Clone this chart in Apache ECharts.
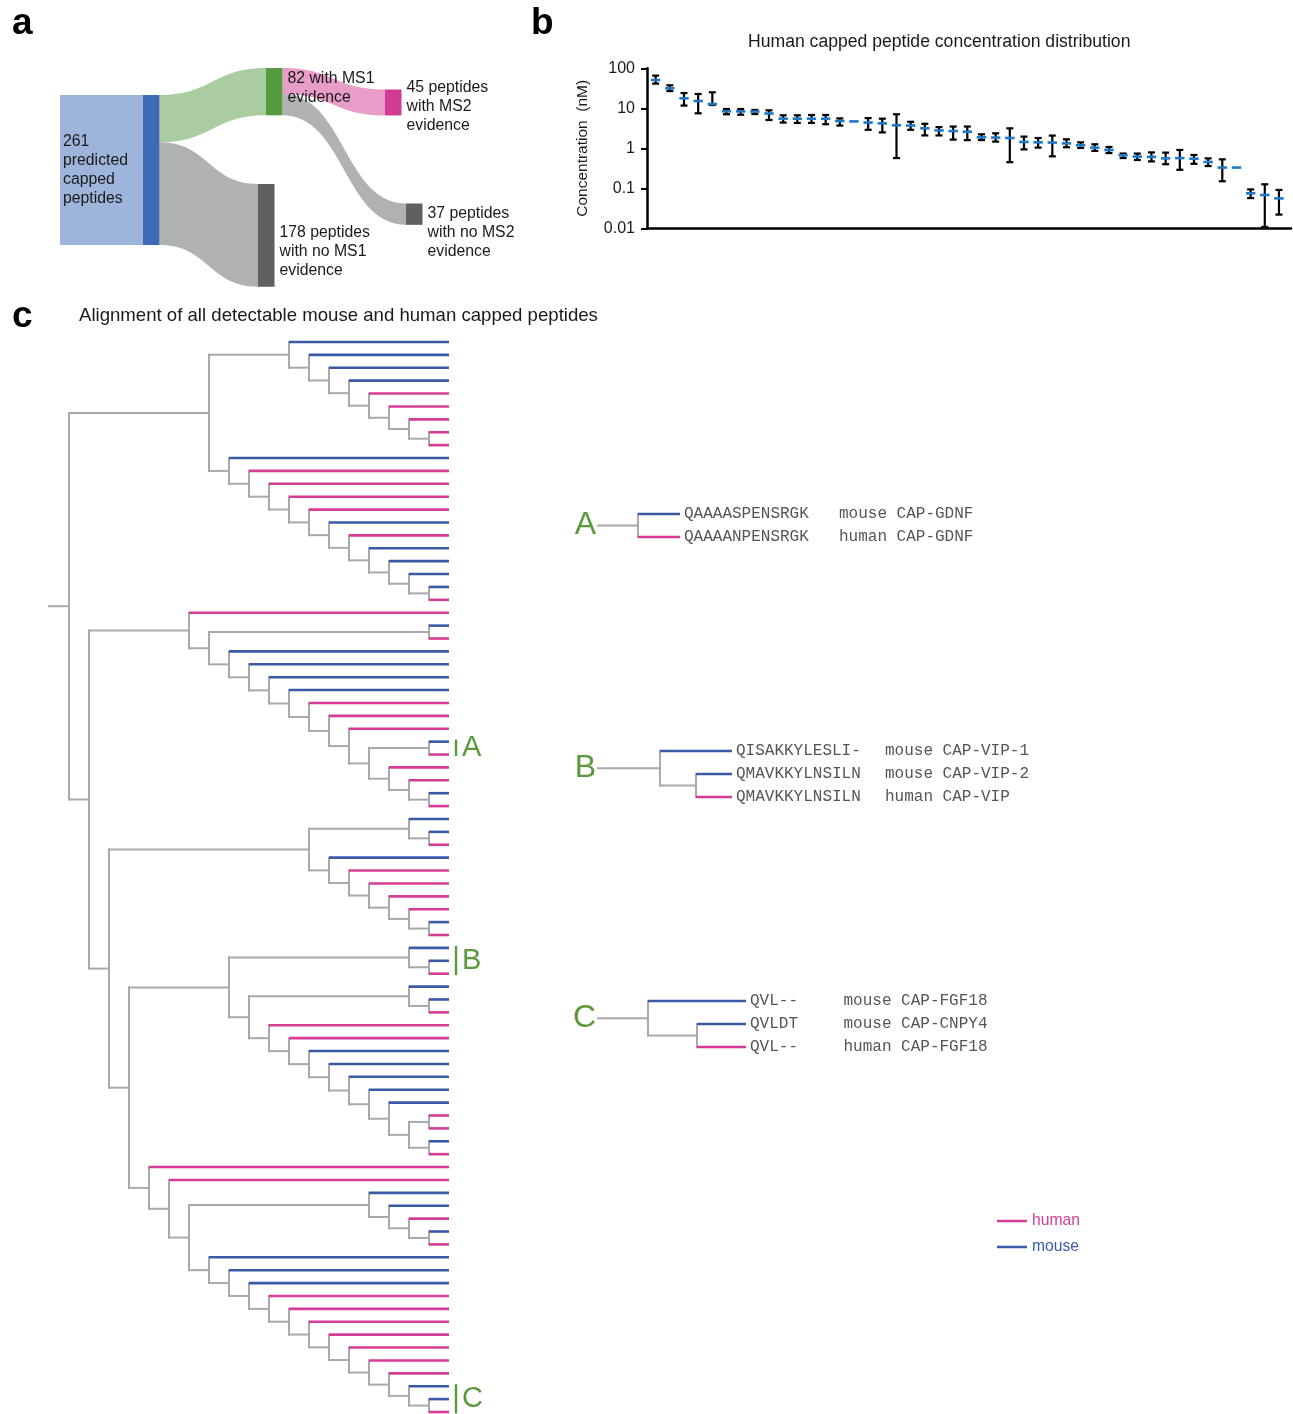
<!DOCTYPE html>
<html><head><meta charset="utf-8">
<script src="https://cdn.jsdelivr.net/npm/echarts@6/dist/echarts.min.js"></script>
<style>html,body{margin:0;padding:0;background:#fff}#main{width:1293px;height:1414px}</style>
</head><body><div id="main"></div>
<script>
// ================= DATA =================
// ---- panel a : sankey ----
const sankeyNodeNames = ['n261', 'n82', 'n178', 'n45', 'n37'];
const sankeyNodeLines = [
  ['261', 'predicted', 'capped', 'peptides'],
  ['82 with MS1', 'evidence'],
  ['178 peptides', 'with no MS1', 'evidence'],
  ['45 peptides', 'with MS2', 'evidence'],
  ['37 peptides', 'with no MS2', 'evidence']
];
const sankeyLinkSource = [0, 0, 1, 1];
const sankeyLinkTarget = [1, 2, 3, 4];
const sankeyLinkValue = [82, 178, 45, 37];

// ---- panel b : concentration distribution (45 human capped peptides, ranked) ----
const peptideMean = [51, 31.6, 17.8, 15.2, 12.8, 8.4, 8.4, 8.3, 7.4, 5.5,
  5.5, 5.5, 5.5, 4.8, 4.7, 4.4, 4.2, 3.76, 3.7, 3.16,
  2.8, 2.7, 2.6, 1.88, 1.85, 1.81, 1.44, 1.41, 1.39, 1.33,
  1.19, 1.04, 0.91, 0.67, 0.62, 0.61, 0.56, 0.57, 0.55, 0.455,
  0.33, 0.33, 0.075, 0.068, 0.056];
const peptideLow = [41.4, 27, 11.7, 7.5, 12.1, 7.1, 6.9, 7.2, 5.1, 4.4,
  4.3, 4.3, 4.0, 3.7, null, 2.9, 2.5, 0.57, 2.9, 2.1,
  2.1, 1.65, 1.6, 1.61, 1.47, 0.45, 0.94, 1.04, 0.63, 1.06,
  1.02, 0.86, 0.76, 0.57, 0.51, 0.47, 0.40, 0.29, 0.41, 0.36,
  0.15, null, 0.057, 0.0108, 0.022];
const peptideHigh = [65.7, 37.6, 24.1, 22.8, 25.1, 9.6, 9.6, 9.1, 8.9, 6.7,
  6.7, 6.8, 6.8, 5.6, null, 5.7, 5.5, 7.1, 4.6, 4.1,
  3.4, 3.5, 3.5, 2.24, 2.37, 3.16, 1.96, 1.81, 2.08, 1.68,
  1.41, 1.26, 1.08, 0.74, 0.74, 0.79, 0.78, 0.91, 0.68, 0.56,
  0.53, null, 0.094, 0.126, 0.091];
const concentrationTicks = ['0.01', '0.1', '1', '10', '100'];

// ---- panel c : dendrogram (leaf index = row from top) ----
const leafSpecies = [
  'mouse','mouse','mouse','mouse','human','human','human','human','human',
  'mouse','human','human','human','human','mouse','human','mouse','mouse','mouse','mouse','human',
  'human','mouse','human','mouse','mouse','mouse','mouse','human','human','human','mouse','human','human','human','mouse','human',
  'mouse','mouse','human','mouse','human','human','human','human','mouse','human',
  'mouse','mouse','human','mouse','mouse','human','human','human','mouse','mouse','mouse','mouse','mouse','human','human','mouse','human',
  'human','human','mouse','mouse','human','mouse','human','mouse','mouse','mouse','human','human','human','human','human','human','human','mouse','mouse','human'
];
const treeTopology = [
  [
    [0,[1,[2,[3,[4,[5,[6,[7,8]]]]]]]],
    [9,[10,[11,[12,[13,[14,[15,[16,[17,[18,[19,20]]]]]]]]]]]
  ],
  [
    [21, [[22,23], [24,[25,[26,[27,[28,[29,[30,[[31,32],[33,[34,[35,36]]]]]]]]]]]]],
    [
      [[37,[38,39]], [40,[41,[42,[43,[44,[45,46]]]]]]],
      [
        [[47,[48,49]], [[50,[51,52]], [53,[54,[55,[56,[57,[58,[59,[[60,61],[62,63]]]]]]]]]]],
        [64, [65, [[66,[67,[68,[69,70]]]], [71,[72,[73,[74,[75,[76,[77,[78,[79,[80,[81,[82,83]]]]]]]]]]]]]]]
      ]
    ]
  ]
];
const cladeLetters = ['A', 'B', 'C'];
const cladeFirstLeaf = [31, 47, 81];
const cladeLastLeaf = [32, 49, 83];

// ---- panel c insets ----
const insetATopology = [0, 1];
const insetASpecies = ['mouse', 'human'];
const insetASequences = ['QAAAASPENSRGK', 'QAAAANPENSRGK'];
const insetANames = ['mouse CAP-GDNF', 'human CAP-GDNF'];

const insetBTopology = [0, [1, 2]];
const insetBSpecies = ['mouse', 'mouse', 'human'];
const insetBSequences = ['QISAKKYLESLI-', 'QMAVKKYLNSILN', 'QMAVKKYLNSILN'];
const insetBNames = ['mouse CAP-VIP-1', 'mouse CAP-VIP-2', 'human CAP-VIP'];

const insetCTopology = [0, [1, 2]];
const insetCSpecies = ['mouse', 'mouse', 'human'];
const insetCSequences = ['QVL--', 'QVLDT', 'QVL--'];
const insetCNames = ['mouse CAP-FGF18', 'mouse CAP-CNPY4', 'human CAP-FGF18'];

const speciesNames = ['human', 'mouse'];

// ================= STYLE =================
const FONT = "'Liberation Sans', Arial, Helvetica, sans-serif";
const MONO = "'Liberation Mono', 'Courier New', monospace";
const COL = { human: '#d63c96', mouse: '#3a5aa8', gray: '#a9a9ab', green: '#5a9a3c', text: '#1a1a1a' };

const sankeyBox = { left: 143, top: 95, width: 279, height: 150 };
const sankeyNodeStyle = [
  { color: '#3d6ab2', x: 143, y: 95 },
  { color: '#579b41', x: 266, y: 68, dy: -4 },
  { color: '#5f6062', x: 258, y: 184, dy: 16 },
  { color: '#d13b93', x: 385, y: 89.5, dy: 4.5 },
  { color: '#5f6062', x: 406, y: 203.5, dy: 18.5 }
];
const sankeyLinkColors = ['#a9cda0', '#b0b1b1', '#e89cc8', '#b0b1b1'];

// ================= HELPERS =================
function layoutTree(topo, species, stub) {
  const segs = { gray: [], human: [], mouse: [] };
  function walk(node) {
    if (typeof node === 'number') return { y: node, h: 0, leaf: node };
    const kids = node.map(walk);
    const h = Math.max.apply(null, kids.map(k => k.h)) + 1;
    const y = (kids[0].y + kids[kids.length - 1].y) / 2;
    segs.gray.push([h, kids[0].y, h, kids[kids.length - 1].y]);
    kids.forEach(k => {
      if (k.leaf !== undefined) segs[species[k.leaf]].push([h, k.y, 0, k.y]);
      else segs.gray.push([h, k.y, k.h, k.y]);
    });
    return { y: y, h: h };
  }
  const root = walk(topo);
  segs.gray.push([root.h + stub, root.y, root.h, root.y]);
  return { segs: segs, root: root, maxX: root.h + stub };
}

function segRender(color, width, cap) {
  return function (params, api) {
    const p1 = api.coord([api.value(0), api.value(1)]);
    const p2 = api.coord([api.value(2), api.value(3)]);
    return { type: 'line', shape: { x1: p1[0], y1: p1[1], x2: p2[0], y2: p2[1] },
      style: { stroke: color, lineWidth: width, lineCap: cap } };
  };
}

function treeSeries(tree, gi) {
  const out = [];
  out.push({ type: 'custom', name: 'branches', xAxisIndex: gi, yAxisIndex: gi, z: 2,
    renderItem: segRender(COL.gray, 2.0, 'square'), encode: { x: [0, 2], y: [1, 3] },
    data: tree.segs.gray, silent: true });
  speciesNames.forEach(sp => {
    out.push({ type: 'custom', name: sp, xAxisIndex: gi, yAxisIndex: gi, z: 3,
      itemStyle: { color: COL[sp] },
      renderItem: segRender(COL[sp], 2.6, 'butt'), encode: { x: [0, 2], y: [1, 3] },
      data: tree.segs[sp], silent: true });
  });
  return out;
}

// main tree
const mainTree = layoutTree(treeTopology, leafSpecies, 1);

// insets
const insets = [
  { topo: insetATopology, sp: insetASpecies, seq: insetASequences, names: insetANames, letter: 'A',
    stub: 0.95, grid: { left: 598, top: 514, width: 82, height: 23 }, nameDx: 159 },
  { topo: insetBTopology, sp: insetBSpecies, seq: insetBSequences, names: insetBNames, letter: 'B',
    stub: 1.72, grid: { left: 598, top: 751, width: 134, height: 46 }, nameDx: 153 },
  { topo: insetCTopology, sp: insetCSpecies, seq: insetCSequences, names: insetCNames, letter: 'C',
    stub: 1.02, grid: { left: 598, top: 1001, width: 148, height: 46 }, nameDx: 97.5 }
];
insets.forEach(ins => { ins.tree = layoutTree(ins.topo, ins.sp, ins.stub); });

// ================= OPTION =================
const grids = [
  { left: 647, top: 68.3, width: 644, height: 160 },          // panel b
  { left: 49, top: 342, width: 400, height: 1070 }            // panel c tree
].concat(insets.map(ins => ins.grid));

const xAxes = [
  { gridIndex: 0, type: 'value', min: 0.388, max: 45.85, axisLine: { show: true, onZero: false, lineStyle: { color: '#000', width: 2.5 } },
    axisTick: { show: false }, axisLabel: { show: false }, splitLine: { show: false } },
  { gridIndex: 1, type: 'value', min: 0, max: mainTree.maxX, inverse: true, show: false }
].concat(insets.map((ins, i) => ({ gridIndex: 2 + i, type: 'value', min: 0, max: ins.tree.maxX, inverse: true, show: false })));

const yAxes = [
  { gridIndex: 0, type: 'log', logBase: 10, min: 0.01, max: 100,
    name: 'Concentration  (nM)', nameLocation: 'middle', nameGap: 56, nameRotate: 90,
    nameTextStyle: { fontSize: 15.5, color: COL.text, fontFamily: FONT },
    axisLine: { show: true, lineStyle: { color: '#000', width: 2.5 } },
    axisTick: { show: true, length: 6, lineStyle: { color: '#000', width: 2 } },
    axisLabel: { fontSize: 16, color: COL.text, fontFamily: FONT, margin: 12,
      formatter: v => concentrationTicks[Math.round(Math.log10(v)) + 2] },
    splitLine: { show: false } },
  { gridIndex: 1, type: 'value', min: 0, max: leafSpecies.length - 1, inverse: true, show: false }
].concat(insets.map((ins, i) => ({ gridIndex: 2 + i, type: 'value', min: 0, max: ins.sp.length - 1, inverse: true, show: false })));

const series = [];

// panel a sankey
series.push({
  type: 'sankey', left: sankeyBox.left, top: sankeyBox.top, width: sankeyBox.width, height: sankeyBox.height,
  nodeWidth: 16.5, nodeGap: 0, layoutIterations: 0, nodeAlign: 'left', draggable: false,
  emphasis: { disabled: true }, silent: true,
  data: sankeyNodeNames.map((n, i) => {
    const s = sankeyNodeStyle[i];
    const item = { name: n, itemStyle: { color: s.color, borderWidth: 0 },
      localX: (s.x - sankeyBox.left) / sankeyBox.width, localY: (s.y - sankeyBox.top) / sankeyBox.height };
    if (i === 0) {
      item.label = { position: 'left', distance: 0, backgroundColor: '#9eb5db', padding: [37, 0, 37, 3],
        formatter: sankeyNodeLines[i].map(t => '{t|' + t + '}').join('\n'),
        rich: { t: { width: 80, align: 'left', fontSize: 15.8, lineHeight: 19, color: COL.text, fontFamily: FONT } } };
    } else {
      item.label = { position: 'right', distance: 5, offset: [0, s.dy || 0], formatter: sankeyNodeLines[i].join('\n'),
        fontSize: 15.8, lineHeight: 19, color: COL.text, fontFamily: FONT };
    }
    return item;
  }),
  links: sankeyLinkValue.map((v, i) => ({ source: sankeyNodeNames[sankeyLinkSource[i]], target: sankeyNodeNames[sankeyLinkTarget[i]],
    value: v, lineStyle: { color: sankeyLinkColors[i], opacity: 1, curveness: 0.5 } }))
});

// panel b error bars + means
series.push({
  type: 'custom', name: 'concentration', xAxisIndex: 0, yAxisIndex: 0, silent: true, z: 5,
  encode: { x: 0, y: 1 },
  data: peptideMean.map((m, i) => [i + 1, m, peptideLow[i] == null ? '-' : peptideLow[i], peptideHigh[i] == null ? '-' : peptideHigh[i]]),
  renderItem: function (params, api) {
    const x = api.value(0), m = api.value(1), lo = api.value(2), hi = api.value(3);
    const pm = api.coord([x, m]);
    const ch = [];
    if (isFinite(lo) && isFinite(hi)) {
      const pl = api.coord([x, lo]), ph = api.coord([x, hi]);
      const st = { stroke: '#000', lineWidth: 2.2 };
      ch.push({ type: 'line', shape: { x1: pm[0], y1: ph[1], x2: pm[0], y2: pl[1] }, style: st });
      ch.push({ type: 'line', shape: { x1: pm[0] - 3.5, y1: ph[1], x2: pm[0] + 3.5, y2: ph[1] }, style: st });
      ch.push({ type: 'line', shape: { x1: pm[0] - 3.5, y1: pl[1], x2: pm[0] + 3.5, y2: pl[1] }, style: st });
    }
    ch.push({ type: 'line', shape: { x1: pm[0] - 4.7, y1: pm[1], x2: pm[0] + 4.7, y2: pm[1] }, style: { stroke: '#1e78c8', lineWidth: 2.6 } });
    return { type: 'group', children: ch };
  }
});

// panel c main tree
treeSeries(mainTree, 1).forEach(s => series.push(s));
series.push({
  type: 'custom', name: 'clades', xAxisIndex: 1, yAxisIndex: 1, silent: true, z: 4,
  encode: { x: 0, y: 1 },
  data: cladeLetters.map((c, i) => [0, cladeFirstLeaf[i], cladeLastLeaf[i]]),
  renderItem: function (params, api) {
    const p1 = api.coord([0, api.value(1)]);
    const p2 = api.coord([0, api.value(2)]);
    const bx = p1[0] + 7;
    return { type: 'group', children: [
      { type: 'line', shape: { x1: bx, y1: p1[1] - 2, x2: bx, y2: p2[1] + 1.5 }, style: { stroke: COL.green, lineWidth: 2.4 } },
      { type: 'text', x: bx + 6, y: (p1[1] + p2[1]) / 2, style: { text: cladeLetters[params.dataIndex], fill: COL.green,
        font: '29px ' + FONT, align: 'left', verticalAlign: 'middle' } }
    ] };
  }
});

// panel c insets
insets.forEach((ins, k) => {
  const gi = 2 + k;
  treeSeries(ins.tree, gi).forEach(s => series.push(s));
  const rows = ins.sp.map((s, i) => [0, i, 0]);
  rows.push([ins.tree.maxX, ins.tree.root.y, 1]);
  series.push({
    type: 'custom', name: 'inset' + ins.letter, xAxisIndex: gi, yAxisIndex: gi, silent: true, z: 4,
    encode: { x: 0, y: 1 }, data: rows,
    renderItem: function (params, api) {
      const p = api.coord([api.value(0), api.value(1)]);
      if (api.value(2) === 1) {
        return { type: 'text', x: p[0] - 2, y: p[1], style: { text: ins.letter, fill: COL.green, font: '32px ' + FONT,
          align: 'right', verticalAlign: 'middle' } };
      }
      const i = params.dataIndex;
      return { type: 'group', children: [
        { type: 'text', x: p[0] + 4, y: p[1], style: { text: ins.seq[i], fill: '#555', font: '16px ' + MONO, align: 'left', verticalAlign: 'middle' } },
        { type: 'text', x: p[0] + ins.nameDx, y: p[1], style: { text: ins.names[i], fill: '#555', font: '16px ' + MONO, align: 'left', verticalAlign: 'middle' } }
      ] };
    }
  });
});

const option = {
  animation: false,
  backgroundColor: '#fff',
  grid: grids,
  xAxis: xAxes,
  yAxis: yAxes,
  legend: {
    orient: 'vertical', left: 997, top: 1213, padding: 0, itemWidth: 30, itemHeight: 2.5, itemGap: 10, selectedMode: false,
    data: speciesNames.map(sp => ({ name: sp, icon: 'rect', itemStyle: { color: COL[sp] },
      textStyle: { color: COL[sp], fontSize: 15.7, fontFamily: FONT } }))
  },
  graphic: [
    { type: 'text', x: 12, y: 23.5, style: { text: 'a', font: 'bold 37px ' + FONT, fill: '#000', verticalAlign: 'middle' } },
    { type: 'text', x: 531, y: 23.5, style: { text: 'b', font: 'bold 37px ' + FONT, fill: '#000', verticalAlign: 'middle' } },
    { type: 'text', x: 12, y: 316.5, style: { text: 'c', font: 'bold 37px ' + FONT, fill: '#000', verticalAlign: 'middle' } },
    { type: 'text', x: 748, y: 41.9, style: { text: 'Human capped peptide concentration distribution', font: '17.6px ' + FONT, fill: COL.text, verticalAlign: 'middle' } },
    { type: 'text', x: 79, y: 315.4, style: { text: 'Alignment of all detectable mouse and human capped peptides', font: '18.6px ' + FONT, fill: COL.text, verticalAlign: 'middle' } }
  ],
  series: series
};

const chart = echarts.init(document.getElementById('main'), null, { renderer: 'canvas' });
chart.setOption(option);
</script>
</body></html>
